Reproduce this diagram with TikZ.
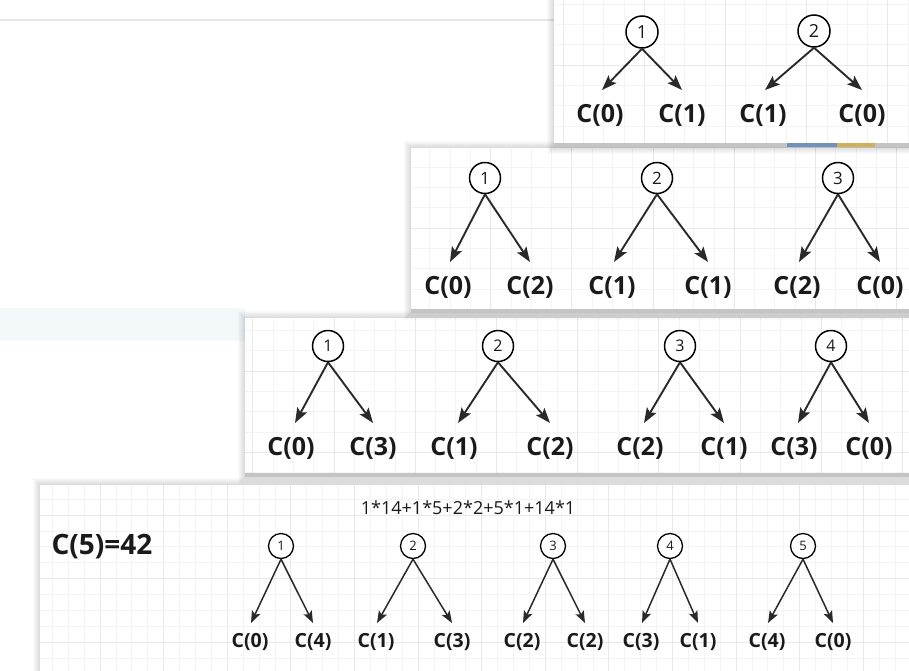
\documentclass[tikz,border=0pt]{standalone}
\usepackage{fontspec}
\setmainfont{Open Sans}
\usetikzlibrary{arrows.meta}

\definecolor{gminorc}{HTML}{F4F4F4}
\definecolor{gmajorc}{HTML}{E8E8E8}
\definecolor{ink}{HTML}{1A1A1A}
\definecolor{linkc}{HTML}{2A2A2A}
\definecolor{stripc}{HTML}{C4C4C4}
\definecolor{stripblue}{HTML}{7390BC}
\definecolor{stripyellow}{HTML}{CFB15B}
\definecolor{rulec}{HTML}{E3E8E3}
\definecolor{bandc}{HTML}{F3F8FB}

\tikzset{
  gminor/.style={gminorc, line width=0.8pt},
  gmajor/.style={gmajorc, line width=1pt},
  sheet/.style={fill=white},
  % tree parts, sized per sheet
  treeroot/.style={circle, draw=black, fill=white, line width=1.5pt,
    minimum size=31pt, inner sep=0pt, font=\fontsize{17}{17}\selectfont, text=ink},
  treeleaf/.style={inner sep=0pt, font=\fontsize{25}{25}\selectfont\bfseries, text=ink},
  treelink/.style={linkc, line width=1.9pt, -{Stealth[length=15pt,width=11pt,inset=3pt]}},
}

% soft shadow around a sheet: x0 y0 x1 y1
\newcommand{\softshadow}[4]{%
  \foreach \s in {1,...,7}{\fill[black,opacity=0.02] (#1-\s,#2-\s) rectangle (#3+\s,#4+\s);}%
}

% squared paper inside a sheet: x0 y0 x1 y1, major x, major y, minor step
\newcommand{\sheetgrid}[7]{%
  \begin{scope}
    \clip (#1,#2) rectangle (#3,#4);
    \foreach \k in {-60,...,60}{%
      \draw[gminor] ({#5+\k*#7},-10) -- ({#5+\k*#7},700);
      \draw[gminor] (-10,{#6+\k*#7}) -- (950,{#6+\k*#7});
    }
    \foreach \k in {-60,-56,...,60}{%
      \draw[gmajor] ({#5+\k*#7},-10) -- ({#5+\k*#7},700);
      \draw[gmajor] (-10,{#6+\k*#7}) -- (950,{#6+\k*#7});
    }
  \end{scope}}

% one split: name, root x, root y, number, left x, right x, leaf y, left arg, right arg
\newcommand{\pairtree}[9]{%
  \node[treeroot] (#1) at (#2,#3) {#4};
  \node[treeleaf] (#1l) at (#5,#7) {C(#8)};
  \node[treeleaf] (#1r) at (#6,#7) {C(#9)};
  \coordinate (#1lt) at ({#5+\tipdx},{#7-\tipdy});
  \coordinate (#1rt) at (#6,{#7-\tipdy});
  \draw[treelink] (#1.south) -- (#1lt);
  \draw[treelink] (#1.south) -- (#1rt);
}

\begin{document}
\begin{tikzpicture}[x=1pt,y=-1pt]
\useasboundingbox (0,0) rectangle (909,670);
\clip (0,0) rectangle (909,670);
\fill[white] (0,0) rectangle (909,670);

% page behind the sheets
\draw[rulec, line width=1.3pt] (0,20) -- (554,20);
\fill[bandc] (0,308) rectangle (245,341);

% ---- sheet 4: C(5)
\softshadow{40}{485}{915}{675}
\fill[sheet] (40,485) rectangle (915,675);
\sheetgrid{40}{485}{915}{675}{100}{515}{15.9}

% ---- sheet 3: C(4)
\softshadow{245}{318}{915}{477}
\fill[sheet] (245,318) rectangle (915,477);
\sheetgrid{245}{318}{915}{473}{334}{371}{20.3}
\fill[stripc] (245,473) rectangle (915,477);

% ---- sheet 2: C(3)
\softshadow{411}{148}{915}{313}
\fill[sheet] (411,148) rectangle (915,313);
\sheetgrid{411}{148}{915}{309}{653}{228}{20.3}
\fill[stripc] (411,309) rectangle (915,313);

% ---- sheet 1: C(2)
\softshadow{554}{-10}{915}{147}
\fill[sheet] (554,-10) rectangle (915,147);
\sheetgrid{554}{-10}{915}{143}{563}{65}{20.3}
\fill[stripc] (554,143) rectangle (915,147);
\fill[stripblue] (787,143) rectangle (837,147);
\fill[stripyellow] (837,143) rectangle (875,147);

% ---- trees of sheet 1
\def\tipdx{2}\def\tipdy{25}
\begin{scope}[treeroot/.append style={minimum size=32pt, font=\fontsize{18}{18}\selectfont}]
\pairtree{a1}{642}{32}{1}{600}{682}{115}{0}{1}
\pairtree{a2}{814}{31}{2}{763}{862}{115}{1}{0}
\end{scope}

% ---- trees of sheet 2
\pairtree{b1}{485}{178}{1}{448}{530}{287}{0}{2}
\pairtree{b2}{657}{178}{2}{612}{708}{287}{1}{1}
\pairtree{b3}{838}{178}{3}{797}{880}{287}{2}{0}

% ---- trees of sheet 3
\def\tipdx{4}
\begin{scope}[treeroot/.append style={minimum size=31pt, font=\fontsize{16}{16}\selectfont}]
\pairtree{c1}{328}{346}{1}{291}{373}{448}{0}{3}
\pairtree{c2}{498}{346}{2}{454}{550}{448}{1}{2}
\pairtree{c3}{680}{346}{3}{640}{724}{448}{2}{1}
\pairtree{c4}{831}{346}{4}{794}{869}{448}{3}{0}
\end{scope}

% ---- sheet 4 contents
\def\tipdx{1}\def\tipdy{19}
\begin{scope}[
  treeroot/.append style={minimum size=25pt, line width=1.3pt, font=\fontsize{13}{13}\selectfont},
  treeleaf/.append style={font=\fontsize{19.5}{19.5}\selectfont\bfseries},
  treelink/.style={linkc, line width=1.5pt, -{Stealth[length=12pt,width=9pt,inset=2.5pt]}}]
\node[font=\fontsize{28}{28}\selectfont\bfseries, text=ink] (total) at (102,547) {C(5)=42};
\node[font=\fontsize{18}{18}\selectfont, text=ink] (sum) at (468,508) {1*14+1*5+2*2+5*1+14*1};
\pairtree{d1}{281}{546}{1}{250}{313}{642}{0}{4}
\pairtree{d2}{413}{546}{2}{376}{452}{642}{1}{3}
\pairtree{d3}{553}{546}{3}{522}{585}{642}{2}{2}
\pairtree{d4}{670}{546}{4}{641}{698}{642}{3}{1}
\pairtree{d5}{803}{546}{5}{767}{833}{642}{4}{0}
\end{scope}
\end{tikzpicture}
\end{document}
